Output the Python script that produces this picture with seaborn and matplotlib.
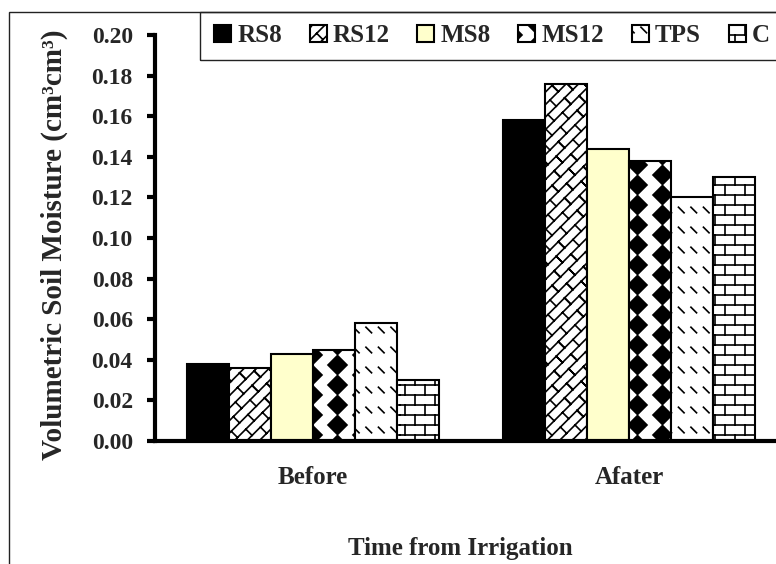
import warnings

import matplotlib
matplotlib.use("Agg")
import matplotlib.pyplot as plt
import matplotlib.hatch as mhatch
from matplotlib.path import Path
from matplotlib.patches import Patch, Rectangle
import pandas as pd
import seaborn as sns

# ---------------------------------------------------------------- data
times = ["Before", "Afater"]
treatments = ["RS8", "RS12", "MS8", "MS12", "TPS", "C"]
before = [0.038, 0.036, 0.043, 0.045, 0.058, 0.030]
after = [0.158, 0.176, 0.144, 0.138, 0.120, 0.130]
y_ticks = [0.00, 0.02, 0.04, 0.06, 0.08, 0.10, 0.12, 0.14, 0.16, 0.18, 0.20]

fill_colors = ["#000000", "#ffffff", "#ffffcc", "#ffffff", "#ffffff", "#ffffff"]
# custom fill textures: R = diagonal brick, D = diamonds, T = dashes, B = brick
patterns = ["", "R", "", "D", "T", "B"]


# ---------------------------------------------------------- textures
class _TiledHatch(mhatch.HatchPatternBase):
    """Hatch built from shapes in the unit tile, wrapped across its edges."""
    key = ""

    def shapes(self):
        return []

    def __init__(self, hatch, density):
        self.polys = []
        if hatch and self.key in hatch:
            for dx in (-1, 0, 1):
                for dy in (-1, 0, 1):
                    for pts, closed in self.shapes():
                        moved = [(x + dx, y + dy) for x, y in pts]
                        xs = [p[0] for p in moved]
                        ys = [p[1] for p in moved]
                        if (max(xs) < -0.02 or min(xs) > 1.02
                                or max(ys) < -0.02 or min(ys) > 1.02):
                            continue
                        self.polys.append((moved, closed))
        self.num_vertices = sum(len(p) + (1 if c else 0) for p, c in self.polys)

    def set_vertices_and_codes(self, vertices, codes):
        i = 0
        for pts, closed in self.polys:
            for k, pt in enumerate(pts):
                vertices[i] = pt
                codes[i] = Path.MOVETO if k == 0 else Path.LINETO
                i += 1
            if closed:
                vertices[i] = pts[0]
                codes[i] = Path.CLOSEPOLY
                i += 1


class BrickHatch(_TiledHatch):
    key = "B"

    def shapes(self):
        rows, cols = 10, 5
        out = []
        for i in range(rows):
            y0 = (i + 0.5) / rows
            out.append(([(0, y0), (1, y0)], False))
            off = 0.5 / cols if i % 2 else 0.0
            for j in range(cols):
                x = (j + 0.25) / cols + off
                out.append(([(x, y0), (x, y0 + 1 / rows)], False))
        return out


class DiagonalBrickHatch(_TiledHatch):
    """Running-bond bricks laid along the '/' diagonal."""
    key = "R"

    def shapes(self):
        n, p = 8, 6          # bands per tile, bricks per band
        half = 0.5 / n       # x/y step of a joint crossing one band
        out = []
        for k in range(n):
            out.append(([(0, k / n), (1, 1 + k / n)], False))
            shift = -k * half + (k % 2) * 0.5 / p
            for m in range(-1, p + 1):
                t = m / p + shift
                out.append(([(t, t + k / n), (t - half, t + k / n + half)], False))
        return out


class DiamondHatch(_TiledHatch):
    key = "D"

    def shapes(self):
        cols, rows, h = 4, 5, 0.095
        out = []
        for c in range(cols):
            for r in range(rows):
                cx = (c + 0.5) / cols
                cy = (r + 0.25 + 0.5 * (c % 2)) / rows
                out.append(([(cx - h, cy), (cx, cy + h),
                             (cx + h, cy), (cx, cy - h)], True))
        return out


class DashHatch(_TiledHatch):
    key = "T"

    def shapes(self):
        cols, rows, d = 8, 5, 0.028
        out = []
        for c in range(cols):
            for r in range(rows):
                cx = (c + 0.5) / cols
                cy = (r + 0.5) / rows
                out.append(([(cx - d, cy + d), (cx + d, cy - d)], False))
        return out


mhatch._hatch_types.extend([BrickHatch, DiagonalBrickHatch, DiamondHatch, DashHatch])

# -------------------------------------------------------------- style
sns.set_style("white")
plt.rcParams["font.family"] = ["Liberation Serif", "DejaVu Serif"]
plt.rcParams["font.weight"] = "bold"
plt.rcParams["hatch.linewidth"] = 1.2

df = pd.DataFrame({
    "time": [times[0]] * len(treatments) + [times[1]] * len(treatments),
    "treatment": treatments * 2,
    "moisture": before + after,
})

W, H = 776, 564
fig = plt.figure(figsize=(W / 100, H / 100), dpi=100)
fig.patch.set_facecolor("white")
ax = fig.add_axes([155 / W, 1 - 441 / H, (787 - 155) / W, (441 - 35) / H])

sns.barplot(
    data=df, x="time", y="moisture", hue="treatment",
    order=times, hue_order=treatments,
    palette=dict(zip(treatments, fill_colors)), saturation=1,
    edgecolor="black", linewidth=1.5, width=0.8, legend=False, ax=ax,
)

with warnings.catch_warnings():
    warnings.simplefilter("ignore")
    for container, pat in zip(ax.containers, patterns):
        for bar in container:
            bar.set_hatch(pat or None)

# --------------------------------------------------------------- axes
ax.set_xlim(-0.5, 1.5)
ax.set_ylim(0, 0.2)
ax.set_yticks(y_ticks)
ax.set_yticklabels([f"{v:.2f}" for v in y_ticks])
ax.set_xticks([0, 1])
ax.set_xticklabels(times)
ax.set_xticks([-0.5, 0.5, 1.5], minor=True)
ax.tick_params(axis="x", which="major", length=0, pad=18, labelsize=18)
ax.tick_params(axis="x", which="minor", length=6, width=3, direction="out",
               color="black")
ax.tick_params(axis="y", length=6, width=3, direction="out", pad=10,
               labelsize=17, color="black", left=True)
for lab in ax.get_xticklabels() + ax.get_yticklabels():
    lab.set_fontweight("bold")
for side in ("top", "right"):
    ax.spines[side].set_visible(False)
for side in ("left", "bottom"):
    ax.spines[side].set_linewidth(3)
    ax.spines[side].set_color("black")
ax.set_xlabel("")
ax.set_ylabel("")
ax.set_facecolor("none")

fig.text(460 / W, 1 - 555 / H, "Time from Irrigation", ha="center",
         va="baseline", fontsize=18, fontweight="bold")
fig.text(54 / W, 1 - 245 / H, "Volumetric Soil Moisture (cm\u00b3cm\u00b3)",
         rotation=90, ha="center", va="center", fontsize=21, fontweight="bold")

# ------------------------------------------------------------- legend
with warnings.catch_warnings():
    warnings.simplefilter("ignore")
    handles = [Patch(facecolor=c, edgecolor="black", hatch=p or None, linewidth=1.5)
               for c, p in zip(fill_colors, patterns)]
fig.legend(handles, treatments, loc="center left",
           bbox_to_anchor=(214 / W, 1 - 36 / H), ncol=6, frameon=False,
           prop={"size": 18, "weight": "bold"}, handlelength=0.68,
           handleheight=0.68, handletextpad=0.25, columnspacing=1.1,
           borderpad=0, borderaxespad=0)

# chart frame and legend box
fig.add_artist(Rectangle((9 / W, -0.05), 1.1, 1 - 12 / H + 0.05,
                         transform=fig.transFigure, fill=False,
                         edgecolor="#222222", linewidth=1))
fig.add_artist(Rectangle((200 / W, 1 - 59.5 / H), 1.0, (59.5 - 12) / H,
                         transform=fig.transFigure, fill=False,
                         edgecolor="#222222", linewidth=1))

fig.savefig("out.png", dpi=100, facecolor="white")
